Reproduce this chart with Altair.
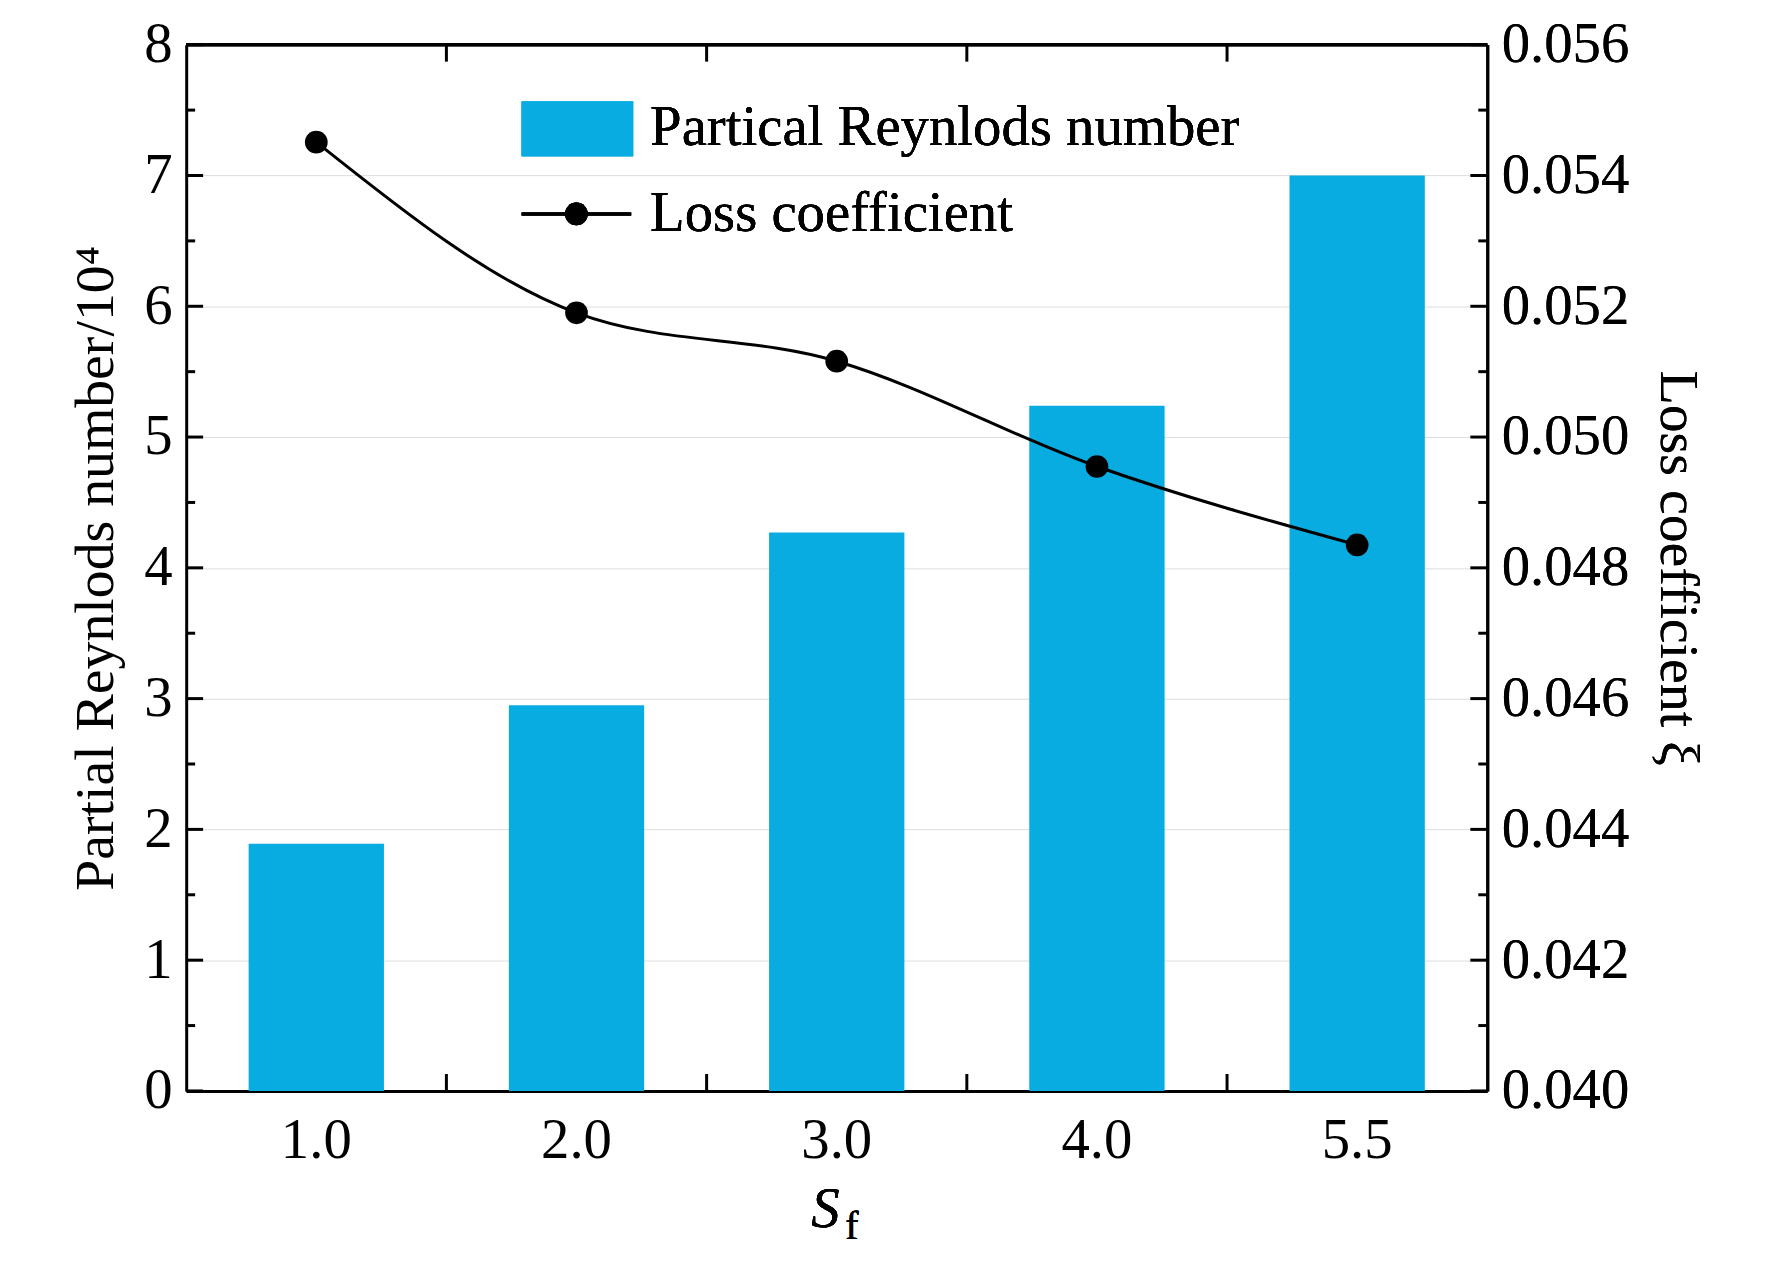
import altair as alt
import pandas as pd

sf = ["1.0", "2.0", "3.0", "4.0", "5.5"]
reynolds = [1.89, 2.95, 4.27, 5.24, 7.0]
loss = [0.05451, 0.05190, 0.05116, 0.04955, 0.04835]

W, H = 1307, 1051
FONT = "Liberation Serif"
BLUE = "#08ACE0"

df = pd.DataFrame({"Sf": sf, "Re": reynolds, "xi": loss})

xs = alt.Scale(domain=sf, paddingInner=0.48, paddingOuter=0.24)
yl = alt.Scale(domain=[0, 8], nice=False, zero=True)
yr = alt.Scale(domain=[0.040, 0.056], nice=False, zero=False)

bars = alt.Chart(df).mark_bar(color=BLUE).encode(
    x=alt.X("Sf:O", scale=xs, sort=sf, title=None,
            axis=alt.Axis(labelAngle=0, labelFontSize=57, labelFont=FONT, labelColor="black",
                          ticks=False, domainColor="black", domainWidth=3, labelPadding=22)),
    y=alt.Y("Re:Q", scale=yl,
            axis=alt.Axis(values=list(range(9)), title="Partial Reynlods number/10⁴",
                          titleFontSize=56, titleFont=FONT, titleFontWeight="normal",
                          titleColor="black", titlePadding=20,
                          labelFontSize=57, labelFont=FONT, labelColor="black",
                          ticks=False, labelPadding=14, domainColor="black", domainWidth=3)),
)

line_base = alt.Chart(df).encode(
    x=alt.X("Sf:O", scale=xs, sort=sf, axis=None),
    y=alt.Y("xi:Q", scale=yr,
            axis=alt.Axis(orient="right", values=[0.040 + 0.002 * i for i in range(9)], format=".3f",
                          title="Loss coefficient ξ", titleFontSize=56, titleFont=FONT,
                          titleFontWeight="normal", titleColor="black", titlePadding=20,
                          labelFontSize=57, labelFont=FONT, labelColor="black",
                          ticks=False, labelPadding=14, domainColor="black", domainWidth=3)),
)
line = line_base.mark_line(color="black", strokeWidth=3, interpolate="monotone")
pts = line_base.mark_point(filled=True, color="black", size=520, opacity=1)

# inward ticks on left/right
lt = pd.DataFrame({"v": [i * 0.5 for i in range(17)]})
lt["len"] = [17 if i % 2 == 0 else 9 for i in range(17)]
left_major = alt.Chart(lt[lt["len"] == 17]).mark_rule(color="black", strokeWidth=3).encode(
    y=alt.Y("v:Q", scale=yl, axis=None), x=alt.value(0), x2=alt.value(17))
left_minor = alt.Chart(lt[lt["len"] == 9]).mark_rule(color="black", strokeWidth=3).encode(
    y=alt.Y("v:Q", scale=yl, axis=None), x=alt.value(0), x2=alt.value(9))
right_major = alt.Chart(lt[lt["len"] == 17]).mark_rule(color="black", strokeWidth=3).encode(
    y=alt.Y("v:Q", scale=yl, axis=None), x=alt.value(W - 17), x2=alt.value(W))
right_minor = alt.Chart(lt[lt["len"] == 9]).mark_rule(color="black", strokeWidth=3).encode(
    y=alt.Y("v:Q", scale=yl, axis=None), x=alt.value(W - 9), x2=alt.value(W))

# frame top and ticks between categories
step = W / 5
mids = pd.DataFrame({"k": [1, 2, 3, 4]})
bot = alt.Chart(mids).mark_rule(color="black", strokeWidth=3).encode(
    x=alt.X("k:Q", scale=alt.Scale(domain=[0, 5]), axis=None), y=alt.value(H), y2=alt.value(H - 17))
top = alt.Chart(mids).mark_rule(color="black", strokeWidth=3).encode(
    x=alt.X("k:Q", scale=alt.Scale(domain=[0, 5]), axis=None), y=alt.value(0), y2=alt.value(17))
topline = alt.Chart(mids).mark_rule(color="black", strokeWidth=3).encode(
    x=alt.value(0), x2=alt.value(W), y=alt.value(0))

# legend
leg_rect = alt.Chart(mids).mark_rect(color=BLUE).encode(
    x=alt.value(337), x2=alt.value(449), y=alt.value(57), y2=alt.value(112))
leg_line = alt.Chart(mids).mark_rule(color="black", strokeWidth=3).encode(
    x=alt.value(337), x2=alt.value(447), y=alt.value(170))
leg_pt = alt.Chart(mids).mark_point(filled=True, color="black", size=520, opacity=1).encode(
    x=alt.value(392), y=alt.value(170))
leg_t1 = alt.Chart(mids).mark_text(text="Partical Reynlods number", font=FONT, fontSize=57,
                                   align="left", baseline="middle").encode(x=alt.value(466), y=alt.value(84))
leg_t2 = alt.Chart(mids).mark_text(text="Loss coefficient", font=FONT, fontSize=57,
                                   align="left", baseline="middle").encode(x=alt.value(466), y=alt.value(170))
xt_s = alt.Chart(mids).mark_text(text="S", font=FONT, fontSize=57, fontStyle="italic",
                                 align="left", baseline="alphabetic").encode(x=alt.value(628), y=alt.value(1188))
xt_f = alt.Chart(mids).mark_text(text="f", font=FONT, fontSize=40,
                                 align="left", baseline="alphabetic").encode(x=alt.value(662), y=alt.value(1200))

chart = alt.layer(
    bars, line, pts, left_major, left_minor, right_major, right_minor, bot, top, topline,
    leg_rect, leg_line, leg_pt, leg_t1, leg_t2, xt_s, xt_f,
).resolve_scale(y="independent", x="independent").properties(
    width=W, height=H,
    autosize=alt.AutoSizeParams(type="none"),
    padding={"left": 179, "top": 34, "right": 278, "bottom": 181},
).configure_view(stroke=None).configure(background="white")

chart.save("out.html", embed_options={"renderer": "svg", "actions": False})
